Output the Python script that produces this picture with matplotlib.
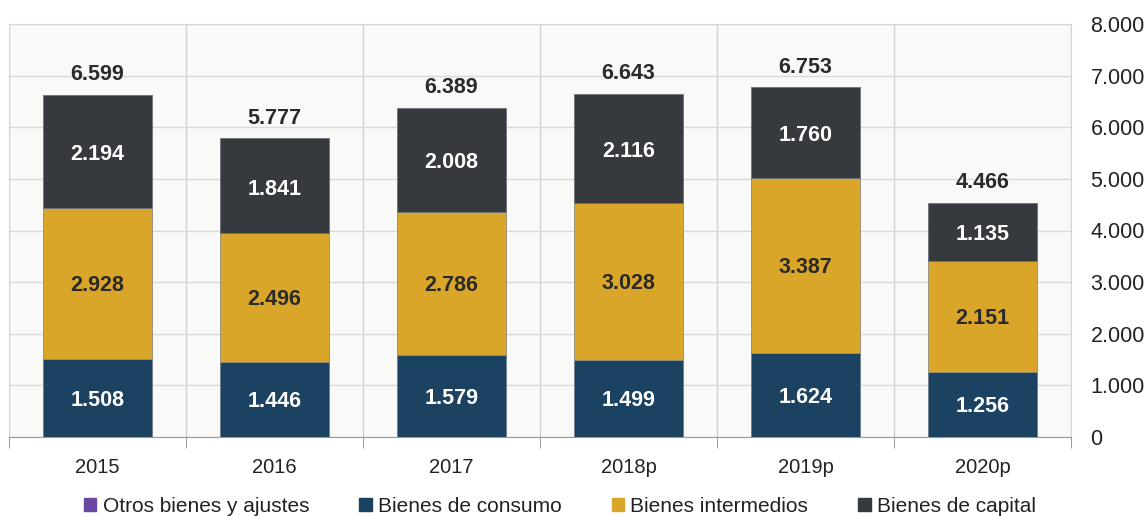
import numpy as np
import matplotlib.pyplot as plt
from matplotlib.patches import Patch

plt.rcParams['font.family'] = ['Liberation Sans', 'DejaVu Sans']

# datos (millones)
anios = ['2015', '2016', '2017', '2018p', '2019p', '2020p']
consumo = [1508, 1446, 1579, 1499, 1624, 1256]
intermedios = [2928, 2496, 2786, 3028, 3387, 2151]
capital = [2194, 1841, 2008, 2116, 1760, 1135]
totales = [6599, 5777, 6389, 6643, 6753, 4466]

col_otros = '#6b46a3'
col_consumo = '#1c4262'
col_inter = '#daa629'
col_capital = '#363a3e'

def fmt(v):
    return f'{v:,}'.replace(',', '.')

fig = plt.figure(figsize=(11.47, 5.16), dpi=100)
ax = fig.add_axes([9/1147, 79/516, 1062/1147, 413/516])
ax.set_facecolor('#f9f9f7')

x = np.arange(len(anios))
w = 0.62
b1 = np.array(consumo)
b2 = b1 + np.array(intermedios)
ax.bar(x, consumo, w, color=col_consumo, edgecolor='#6f7f8f', linewidth=0.6, zorder=3)
ax.bar(x, intermedios, w, bottom=b1, color=col_inter, edgecolor='#8f8a7a', linewidth=0.6, zorder=3)
ax.bar(x, capital, w, bottom=b2, color=col_capital, edgecolor='#6f7377', linewidth=0.6, zorder=3)

# etiquetas
fs = 15.5
for i in range(len(anios)):
    ax.text(x[i], consumo[i]/2 - 40, fmt(consumo[i]), ha='center', va='center',
            color='white', fontsize=fs, fontweight='bold', zorder=4)
    ax.text(x[i], b1[i] + intermedios[i]/2 - 40, fmt(intermedios[i]), ha='center', va='center',
            color='#2a2a2a', fontsize=fs, fontweight='bold', zorder=4)
    ax.text(x[i], b2[i] + capital[i]/2 - 60, fmt(capital[i]), ha='center', va='center',
            color='white', fontsize=fs, fontweight='bold', zorder=4)
    ax.text(x[i], b2[i] + capital[i] + 190, fmt(totales[i]), ha='center', va='bottom',
            color='#2a2a2a', fontsize=fs, fontweight='bold', zorder=4)

ax.set_xlim(-0.5, len(anios) - 0.5)
ax.set_ylim(0, 8000)
ax.set_yticks(range(0, 8001, 1000))
ax.set_yticklabels([fmt(v) for v in range(0, 8001, 1000)], fontsize=15.5, color='#222222')
ax.yaxis.tick_right()
ax.tick_params(axis='y', length=0, pad=14)
ax.grid(axis='y', color='#d9d9d9', linewidth=1, zorder=0)

# separadores de categoria
ax.set_xticks(np.arange(-0.5, len(anios)), minor=True)
ax.set_xticks(x)
ax.set_xticklabels(anios, fontsize=14.5, color='#222222')
ax.tick_params(axis='x', which='major', length=0, pad=15)
ax.tick_params(axis='x', which='minor', length=8, color='#888888')
ax.grid(axis='x', which='minor', color='#d0d0d0', linewidth=1, zorder=0)

for s in ['top', 'left', 'right']:
    ax.spines[s].set_color('#d6d6d6')
ax.spines['bottom'].set_color('#999999')

handles = [Patch(color=col_otros), Patch(color=col_consumo),
           Patch(color=col_inter), Patch(color=col_capital)]
labels = ['Otros bienes y ajustes', 'Bienes de consumo', 'Bienes intermedios', 'Bienes de capital']
fig.legend(handles, labels, loc='center', bbox_to_anchor=(560/1147, 1 - 506/516), ncol=4,
           frameon=False, fontsize=15, handlelength=0.6, handleheight=0.6,
           handletextpad=0.3, columnspacing=2.4, labelcolor='#222222')

fig.savefig('out.png', dpi=100)
